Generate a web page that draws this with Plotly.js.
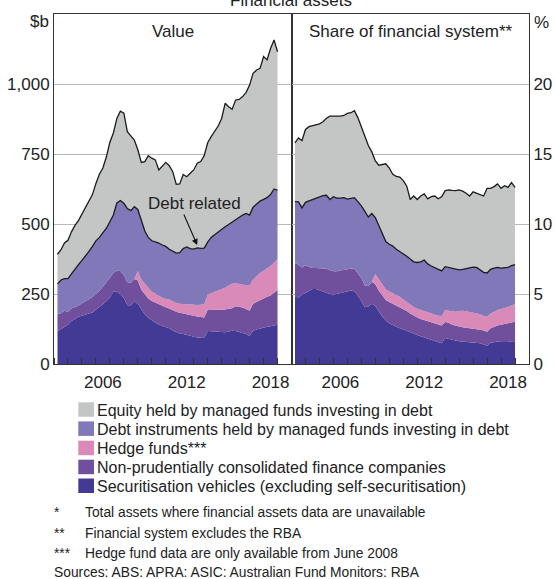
<!DOCTYPE html>
<html><head><meta charset="utf-8">
<script src="https://cdn.plot.ly/plotly-3.0.1.min.js"></script>
<style>html,body{margin:0;padding:0;background:#fff}#chart{width:555px;height:579px}</style>
</head><body><div id="chart"></div>
<script>
// Quarterly observations, Mar 2003 – Dec 2018 (plotted at quarter end, decimal year)
const firstYear = 2003, lastYear = 2018;
const quarters = [];
for (let y = firstYear; y <= lastYear; y++) for (let q = 1; q <= 4; q++) quarters.push(y + q / 4);

// ---- Value panel ($b), cumulative layer tops ----
const securitisationValue = [119,124,133,140, 154,161,169,172, 176,180,184,194, 204,214,224,238, 258,258,250,236, 210,210,224,215, 195,178,165,155, 148,141,137,133, 128,120,114,109, 107,104,100,97, 95,94,93,118, 117,116,115,114, 113,116,119,118, 115,112,107,100, 119,123,127,130, 133,135,137,140];
const financeCoValue = [179,181,190,187, 199,203,208,217, 223,231,239,250, 262,276,290,308, 325,333,332,318, 292,290,304,298, 265,250,234,225, 219,212,208,203, 198,192,187,183, 180,177,174,171, 170,168,166,193, 193,193,193,194, 195,197,199,206, 205,202,196,190, 215,222,228,235, 240,245,255,264];
// Hedge fund data only from mid-2008 (null = not available)
const hedgeValue = [null,null,null,null,null,null,null,null,null,null,null,null,null,null,null,null,null,null,null,null,null,null,null,
  332, 302,285,272,258, 250,242,237,232, 230,224,218,215, 213,213,213,211, 211,212,213,248, 253,258,263,267, 272,280,287,288, 287,284,280,280, 302,315,325,333, 340,350,362,375];
const debtRelatedValue = [286,300,305,305, 322,340,355,370, 385,402,420,440, 452,468,485,508, 532,575,584,574, 555,548,562,552, 512,475,452,440, 436,432,425,420, 410,402,396,398, 412,418,412,410, 415,413,414,435, 452,462,472,480, 490,498,507,516, 525,532,538,532, 560,570,582,588, 594,605,625,620];
const totalValue = [392,408,432,442, 472,495,512,535, 560,585,605,645, 678,700,740,792, 825,877,903,896, 830,815,800,765, 720,723,744,735, 729,693,707,720, 708,687,642,643, 677,669,681,693, 717,723,744,790, 812,833,850,877, 931,919,910,943, 945,955,970,996, 1038,1050,1056,1098, 1086,1127,1157,1115];

// ---- Share of financial system (%), cumulative layer tops ----
const securitisationShare = [4.8,4.75,4.95,5.1, 5.2,5.35,5.35,5.25, 5.17,5.1,5.0,4.95, 5.03,5.08,5.12,5.17, 5.25,5.2,4.9,4.5, 4.05,4.1,4.3,4.15, 3.75,3.4,3.1,2.9, 2.78,2.65,2.55,2.46, 2.38,2.28,2.18,2.07, 1.97,1.88,1.8,1.73, 1.65,1.56,1.48,1.85, 1.78,1.72,1.68,1.63, 1.6,1.58,1.56,1.55, 1.52,1.48,1.4,1.3, 1.52,1.57,1.6,1.58, 1.56,1.58,1.63,1.62];
const financeCoShare = [7.2,7.1,6.9,7.05, 6.95,6.85,6.85,6.85, 6.83,6.8,6.7,6.62, 6.62,6.7,6.72,6.8, 6.83,6.8,6.5,6.15, 5.6,5.55,5.88,5.7, 5.25,4.9,4.57,4.42, 4.29,4.15,4.05,3.92, 3.78,3.6,3.45,3.32, 3.22,3.14,3.05,2.97, 2.9,2.82,2.75,3.0, 2.95,2.8,2.72,2.68, 2.63,2.6,2.57,2.55, 2.5,2.45,2.4,2.3, 2.55,2.67,2.75,2.8, 2.86,2.9,2.96,3.02];
const hedgeShare = [null,null,null,null,null,null,null,null,null,null,null,null,null,null,null,null,null,null,null,null,null,null,null,
  6.43, 6.05,5.65,5.33,5.18, 5.05,4.92,4.8,4.6, 4.42,4.25,4.08,3.95, 3.87,3.78,3.7,3.6, 3.52,3.45,3.42,3.86, 3.8,3.75,3.74,3.78, 3.81,3.77,3.72,3.68, 3.62,3.55,3.45,3.38, 3.6,3.74,3.85,3.92, 3.98,4.08,4.18,4.29];
const debtRelatedShare = [11.6,11.58,11.15,11.55, 11.65,11.75,11.85,11.95, 12.02,12.05,11.75,11.95, 11.85,11.85,11.88,11.78, 11.85,11.88,11.6,11.3, 10.9,10.5,10.75,10.45, 9.9,9.3,8.75,8.55, 8.42,8.2,8.05,7.9, 7.7,7.5,7.3,7.25, 7.3,7.43,7.15,7.0, 6.88,6.75,6.65,6.95, 6.9,6.85,6.75,6.72, 6.76,6.82,6.88,6.92, 6.9,6.72,6.55,6.5, 6.76,6.85,6.9,6.85, 6.85,6.9,7.02,7.1];
const totalShare = [15.8,16.15,15.95,16.75, 16.95,17.0,17.07,17.15, 17.3,17.55,17.7,17.7, 17.67,17.7,17.75,17.9, 17.95,18.1,17.6,16.9, 16.15,15.6,15.15,14.5, 14.2,14.25,14.3,14.0, 13.55,13.4,13.35,13.1, 12.7,11.75,12.0,11.75, 12.0,12.15,11.8,11.95, 12.0,11.8,11.95,12.38, 12.43,12.4,12.38,12.43, 12.35,12.2,12.0,12.3, 12.2,12.1,12.0,12.55, 12.55,12.67,12.86,12.55, 12.74,12.62,12.95,12.62];

// Tick labels / text
const yearLabels = ['2006', '2012', '2018'];
const valueTicks = [0, 250, 500, 750, 1000];
const valueTickText = ['0', '250', '500', '750', '1,000'];
const shareTicks = [0, 5, 10, 15, 20];
const seriesNames = [
  'Equity held by managed funds investing in debt',
  'Debt instruments held by managed funds investing in debt',
  'Hedge funds***',
  'Non-prudentially consolidated finance companies',
  'Securitisation vehicles (excluding self-securitisation)'
];
const footnotes = [
  ['*', 'Total assets where financial assets data are unavailable'],
  ['**', 'Financial system excludes the RBA'],
  ['***', 'Hedge fund data are only available from June 2008']
];
const sourcesText = 'Sources: ABS: APRA: ASIC: Australian Fund Monitors: RBA';

// ---- styling ----
const C = { equity:'#c4c6c5', debt:'#8078b8', hedge:'#d98ab8', finco:'#70509c', secur:'#433a96' };
const FONT = 'Liberation Sans, Arial, Helvetica, sans-serif';
const TXT = '#222';
const W = 555, H = 579, ML = 54, MR = 26, MT = 14, MB = 215;
const PW = W - ML - MR, PH = H - MT - MB;
const X = px => (px - ML) / PW;
const Y = py => (H - MB - py) / PH;

function panelTraces(xa, ya, sec, fin, hedge, debt, total) {
  const hedgeLine = hedge.map((v, i) => v === null ? fin[i] : v); // zero thickness where unavailable
  const base = { x: quarters, xaxis: xa, yaxis: ya, mode: 'lines', hoverinfo: 'skip', showlegend: false };
  return [
    Object.assign({}, base, { y: sec, fill: 'tozeroy', fillcolor: C.secur, line: { width: 0, color: C.secur } }),
    Object.assign({}, base, { y: fin, fill: 'tonexty', fillcolor: C.finco, line: { width: 0, color: C.finco } }),
    Object.assign({}, base, { y: hedgeLine, fill: 'tonexty', fillcolor: C.hedge, line: { width: 0, color: C.hedge } }),
    Object.assign({}, base, { y: debt, fill: 'tonexty', fillcolor: C.debt, line: { width: 1.3, color: '#1b1b1b' } }),
    Object.assign({}, base, { y: total, fill: 'tonexty', fillcolor: C.equity, line: { width: 1.3, color: '#1b1b1b' } })
  ];
}

const traces = [].concat(
  panelTraces('x', 'y', securitisationValue, financeCoValue, hedgeValue, debtRelatedValue, totalValue),
  panelTraces('x2', 'y2', securitisationShare, financeCoShare, hedgeShare, debtRelatedShare, totalShare)
);

const lineCol = '#333';
const xBase = {
  range: [2003, 2020], tickvals: [2006.5, 2012.5, 2018.5], ticktext: yearLabels, ticks: '', ticklabelstandoff: 3,
  showgrid: false, zeroline: false, showline: true, mirror: true, linecolor: lineCol, linewidth: 1,
  minor: { ticks: 'inside', ticklen: 6, tickcolor: lineCol, tickwidth: 1, tick0: 2003, dtick: 1, showgrid: false },
  tickfont: { size: 17, color: TXT, family: FONT }, fixedrange: true
};
const yBase = {
  showgrid: true, gridcolor: '#b8b8b8', gridwidth: 1, zeroline: false, showline: true, mirror: true,
  linecolor: lineCol, linewidth: 1, ticks: '', tickfont: { size: 17, color: TXT, family: FONT }, fixedrange: true
};

const annotations = [];
const shapes = [];
function txt(text, px, py, size, anchor, extra) {
  annotations.push(Object.assign({ text: text, xref: 'paper', yref: 'paper', x: X(px), y: Y(py),
    xanchor: anchor, yanchor: 'middle', showarrow: false, font: { size: size, color: TXT, family: FONT } }, extra || {}));
}
txt('Financial assets', 291, 0.6, 17, 'center');
txt('Value', 173, 31, 17, 'center');
txt('Share of financial system**', 411, 31, 17, 'center');
txt('$b', 51, 21.5, 17, 'right');
txt('%', 532, 22, 17, 'left');
txt('Debt related', 194, 203, 17, 'center');
// arrow pointing to the debt-related line
annotations.push({ xref: 'x', yref: 'y', x: 2013.25, y: 425, ax: -14, ay: -32, text: '', showarrow: true,
  arrowhead: 2, arrowsize: 1.1, arrowwidth: 1.1, arrowcolor: '#111', standoff: 0 });

// legend
const legendColors = [C.equity, C.debt, C.hedge, C.finco, C.secur];
const rowY = [410.3, 429.4, 448.7, 467.7, 486.5];
seriesNames.forEach((name, i) => {
  shapes.push({ type: 'rect', xref: 'paper', yref: 'paper', x0: X(78.3), x1: X(94), y0: Y(rowY[i] + 6.5), y1: Y(rowY[i] - 8),
    fillcolor: legendColors[i], line: { width: 0 } });
  txt(name, 94.5, rowY[i], 16, 'left');
});
// footnotes
const noteY = [512.8, 533, 553.3];
footnotes.forEach((f, i) => {
  txt(f[0], 52, noteY[i], 13.8, 'left');
  txt(f[1], 82.5, noteY[i], 13.8, 'left');
});
txt(sourcesText, 52, 572.3, 13.8, 'left');

const layout = {
  width: W, height: H, margin: { l: ML, r: MR, t: MT, b: MB, pad: 0 },
  paper_bgcolor: '#fff', plot_bgcolor: '#fff', showlegend: false,
  font: { family: FONT, size: 17, color: TXT },
  xaxis: Object.assign({}, xBase, { domain: [0, 0.5], anchor: 'y' }),
  xaxis2: Object.assign({}, xBase, { domain: [0.5, 1], anchor: 'y2' }),
  yaxis: Object.assign({}, yBase, { range: [0, 1250], tickvals: valueTicks, ticktext: valueTickText, anchor: 'x', side: 'left' }),
  yaxis2: Object.assign({}, yBase, { range: [0, 25], tickvals: shareTicks, anchor: 'x2', side: 'right' }),
  annotations: annotations, shapes: shapes
};

Plotly.newPlot('chart', traces, layout, { staticPlot: true, displayModeBar: false });
</script>
</body></html>
